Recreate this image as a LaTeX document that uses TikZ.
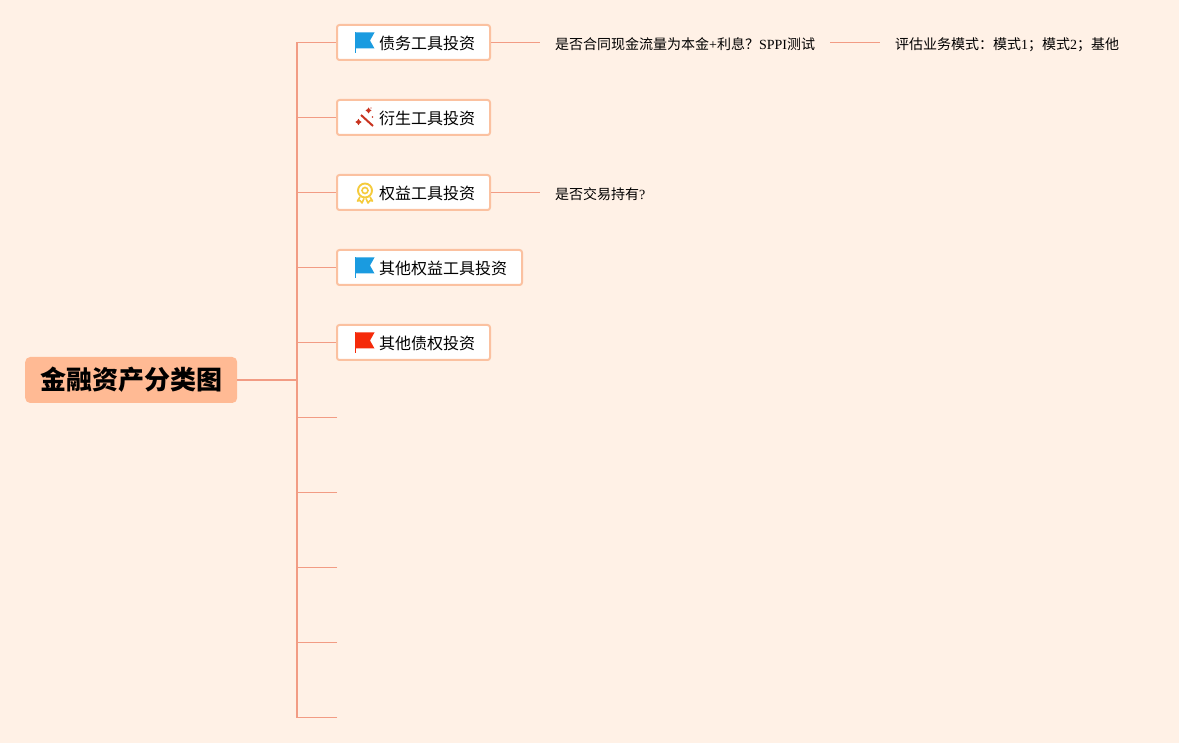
\documentclass[tikz,border=0pt]{standalone}
\usepackage{fontspec}
\setmainfont{Liberation Serif}
\newfontfamily\cjk{Noto Sans CJK SC}
\newcommand{\zh}[1]{{\cjk #1}}
\definecolor{bgc}{HTML}{FFF1E6}
\definecolor{linec}{HTML}{F29C84}
\definecolor{boxc}{HTML}{FBC1A0}
\definecolor{rootc}{HTML}{FFBA94}
\definecolor{flagblue}{HTML}{1A9BE0}
\definecolor{flagred}{HTML}{F52A0A}
\definecolor{wandc}{HTML}{C8331F}
\definecolor{medalc}{HTML}{F5CB3C}
\tikzset{
  x=1pt,y=-1pt,
  rootbox/.style={fill=rootc,rounded corners=5pt,minimum width=212pt,minimum height=46pt,inner sep=0pt,font=\cjk\bfseries\fontsize{26}{30}\selectfont,anchor=west},
  topicbox/.style={draw=boxc,line width=2pt,fill=white,rounded corners=2.5pt,minimum height=35pt,inner sep=0pt,anchor=west},
  topiclabel/.style={anchor=west,inner sep=0pt,font=\cjk\fontsize{16}{20}\selectfont},
  subtext/.style={inner xsep=15pt,inner ysep=3pt,anchor=west,font=\fontsize{14}{18}\selectfont},
  mainline/.style={draw=linec,line width=2pt},
  spineline/.style={draw=linec,line width=1.5pt},
  branch/.style={draw=linec,line width=1pt},
}
\newcommand{\flagicon}[3]{%
  \fill[#3] (#1,#2-10) rectangle ++(1,20.5);
  \fill[#3] (#1,#2-10) -- ++(19.5,0) -- ++(-4.5,8) -- ++(4.5,8) -- ++(-19.5,0) -- cycle;}
\newcommand{\sparkle}[3]{\fill[wandc] (#1,#2-#3) -- (#1+.4*#3,#2-.4*#3) -- (#1+#3,#2) -- (#1+.4*#3,#2+.4*#3) -- (#1,#2+#3) -- (#1-.4*#3,#2+.4*#3) -- (#1-#3,#2) -- (#1-.4*#3,#2-.4*#3) -- cycle;}
\begin{document}
\begin{tikzpicture}
\useasboundingbox[fill=bgc] (0,0) rectangle (1179,743);
\node[rootbox] (root) at (25,380) {金融资产分类图};
\node[topicbox,minimum width=153pt] (t1) at (336,42.5) {};
\node[topicbox,minimum width=153pt] (t2) at (336,117.5) {};
\node[topicbox,minimum width=153pt] (t3) at (336,192.5) {};
\node[topicbox,minimum width=185pt] (t4) at (336,267.5) {};
\node[topicbox,minimum width=153pt] (t5) at (336,342.5) {};
\node[topiclabel] (l1) at (379,43) {债务工具投资};
\node[topiclabel] (l2) at (379,118) {衍生工具投资};
\node[topiclabel] (l3) at (379,193) {权益工具投资};
\node[topiclabel] (l4) at (379,268) {其他权益工具投资};
\node[topiclabel] (l5) at (379,343) {其他债权投资};
\node[subtext] (s1) at (540,44.5) {\zh{是否合同现金流量为本金}+\zh{利息？}SPPI\zh{测试}};
\node[subtext] (s2) at (880,44.5) {\zh{评估业务模式：模式}1\zh{；模式}2\zh{；基他}};
\node[subtext] (s3) at (540,194) {\zh{是否交易持有}?};
\coordinate (spine) at (297,380);
\coordinate (sTop) at (297,42.5);
\coordinate (sBot) at (297,717.5);
\coordinate (e1) at (337,417.5);
\coordinate (e2) at (337,492.5);
\coordinate (e3) at (337,567.5);
\coordinate (e4) at (337,642.5);
\coordinate (e5) at (337,717.5);
\draw[mainline] (root.east) -- (spine);
\draw[spineline] (sTop) -- (sBot);
\foreach \n in {t1,t2,t3,t4,t5} \draw[branch] (\n.west) -- (\n.west -| spine);
\foreach \n in {e1,e2,e3,e4,e5} \draw[branch] (\n) -- (\n -| spine);
\draw[branch] (t1.east) -- (t1.east -| s1.west);
\draw[branch] (t1.east -| s1.east) -- (t1.east -| s2.west);
\draw[branch] (t3.east) -- (t3.east -| s3.west);
\flagicon{355}{42.5}{flagblue}
\flagicon{355}{267.5}{flagblue}
\flagicon{355}{342.5}{flagred}
% wand
\draw[wandc,line width=2pt] (361,115) -- (373,126);
\sparkle{358.5}{122}{3.2}
\sparkle{368.5}{110.5}{3}
\fill[wandc] (372.5,117) circle (.9pt);
\fill[wandc] (371,108) circle (.6pt);
% medal
\draw[medalc,line width=1.9pt] (365,190.5) circle (7);
\draw[medalc,line width=1.6pt] (365,190.5) circle (3);
\draw[medalc,line width=1.6pt,line join=round] (360,197) -- (357.5,201) -- (360,200.5) -- (362,203) -- (364,198.5);
\draw[medalc,line width=1.6pt,line join=round] (370,197) -- (372.5,201) -- (370,200.5) -- (368,203) -- (366,198.5);
\end{tikzpicture}
\end{document}
